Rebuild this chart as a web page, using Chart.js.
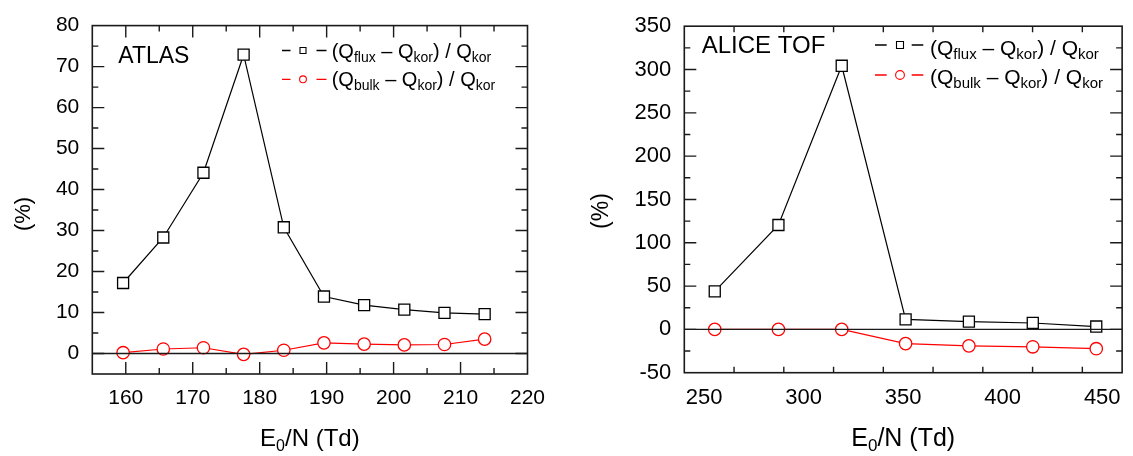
<!DOCTYPE html>
<html>
<head>
<meta charset="utf-8">
<script src="https://cdn.jsdelivr.net/npm/chart.js@4"></script>
<style>
  html, body { margin: 0; padding: 0; background: #fff; }
  body { width: 1133px; height: 456px; position: relative; overflow: hidden; }
  canvas { position: absolute; top: 0; }
  #left  { left: 0; }
  #right { left: 570px; }
</style>
</head>
<body>
<canvas id="left" width="570" height="456"></canvas>
<canvas id="right" width="563" height="456"></canvas>
<script>
/* ============================================================
   DATA
   ============================================================ */
// ATLAS
const X_ATLAS     = [159.6, 165.6, 171.6, 177.6, 183.6, 189.6, 195.6, 201.6, 207.6, 213.6];
const FLUX_ATLAS  = [17.2, 28.3, 44.1, 72.9, 30.8, 13.9, 11.8, 10.7, 9.9, 9.6];
const BULK_ATLAS  = [0.2, 1.1, 1.4, -0.2, 0.8, 2.6, 2.3, 2.1, 2.2, 3.5];
const XTICKS_ATLAS = [160, 170, 180, 190, 200, 210, 220];
const YTICKS_ATLAS = [0, 10, 20, 30, 40, 50, 60, 70, 80];

// ALICE TOF
const X_ALICE     = [255.3, 287.3, 319.1, 351.2, 383.0, 415.1, 447.0];
const FLUX_ALICE  = [43.9, 120.5, 304.3, 11.5, 8.9, 7.4, 3.3];
const BULK_ALICE  = [0, 0, 0, -16.4, -19.0, -20.1, -22.3];
const XTICKS_ALICE = [250, 300, 350, 400, 450];
const YTICKS_ALICE = [-50, 0, 50, 100, 150, 200, 250, 300, 350];

const LEGEND_FLUX = [["(Q", 0], ["flux", 1], [" \u2013 Q", 0], ["kor", 1], [") / Q", 0], ["kor", 1]];
const LEGEND_BULK = [["(Q", 0], ["bulk", 1], [" \u2013 Q", 0], ["kor", 1], [") / Q", 0], ["kor", 1]];
const XTITLE = [["E", 0], ["0", 1], ["/N (Td)", 0]];

const FONT = '"Liberation Sans", Arial, sans-serif';
const INK = "#1a1a1a";

/* ============================================================
   HELPERS
   ============================================================ */
function rich(ctx, parts, x, y, size, subSize, shift) {
  ctx.textAlign = "left";
  ctx.textBaseline = "alphabetic";
  for (const [txt, sub] of parts) {
    ctx.font = `${sub ? subSize : size}px ${FONT}`;
    ctx.fillText(txt, x, y + (sub ? shift : 0));
    x += ctx.measureText(txt).width;
  }
}

function richWidth(ctx, parts, size, subSize) {
  let w = 0;
  for (const [txt, sub] of parts) {
    ctx.font = `${sub ? subSize : size}px ${FONT}`;
    w += ctx.measureText(txt).width;
  }
  return w;
}

// frame, inward ticks, zero line, labels and legend
const decor = {
  id: "decor",
  afterDatasetsDraw(chart) {
    const o = chart.options.plugins.decor;
    const { ctx, chartArea: a, scales: { x, y } } = chart;
    ctx.save();
    ctx.strokeStyle = INK;

    // zero line
    ctx.lineWidth = 1.4;
    const y0 = y.getPixelForValue(0);
    ctx.beginPath(); ctx.moveTo(a.left, y0); ctx.lineTo(a.right, y0); ctx.stroke();

    // frame
    ctx.lineWidth = 1.6;
    ctx.strokeRect(a.left, a.top, a.right - a.left, a.bottom - a.top);

    // ticks (major + minor, all four sides)
    ctx.lineWidth = 1.4;
    const eps = 1e-6;
    for (let v = x.min; v <= x.max + eps; v += o.xMinor) {
      if (Math.abs(v - x.min) < eps || Math.abs(v - x.max) < eps) continue;
      const len = o.xMajor.some(m => Math.abs(m - v) < eps) ? 12 : 6;
      const px = x.getPixelForValue(v);
      ctx.beginPath();
      ctx.moveTo(px, a.bottom); ctx.lineTo(px, a.bottom - len);
      ctx.moveTo(px, a.top); ctx.lineTo(px, a.top + len);
      ctx.stroke();
    }
    for (let v = y.min; v <= y.max + eps; v += o.yMinor) {
      if (Math.abs(v - y.min) < eps || Math.abs(v - y.max) < eps) continue;
      const len = o.yMajor.some(m => Math.abs(m - v) < eps) ? 12 : 6;
      const py = y.getPixelForValue(v);
      ctx.beginPath();
      ctx.moveTo(a.left, py); ctx.lineTo(a.left + len, py);
      ctx.moveTo(a.right, py); ctx.lineTo(a.right - len, py);
      ctx.stroke();
    }

    ctx.fillStyle = "#000";

    // panel label
    ctx.font = `${o.nameSize}px ${FONT}`;
    ctx.textAlign = "left";
    ctx.textBaseline = "alphabetic";
    ctx.fillText(o.name, o.nameX, o.nameY);

    // x title
    const ts = o.titleSize, ss = o.titleSize - 8;
    const tw = richWidth(ctx, XTITLE, ts, ss);
    rich(ctx, XTITLE, (a.left + a.right) / 2 - tw / 2, 446, ts, ss, 5);

    // y title
    ctx.save();
    ctx.translate(o.yTitleX, o.yTitleY);
    ctx.rotate(-Math.PI / 2);
    ctx.font = `${o.yTitleSize}px ${FONT}`;
    ctx.textAlign = "center";
    ctx.textBaseline = "middle";
    ctx.fillText("(%)", 0, 0);
    ctx.restore();

    // legend
    const L = o.legend;
    const rows = [
      { parts: LEGEND_FLUX, color: "#000", shape: "rect", cy: L.y1, base: L.b1 },
      { parts: LEGEND_BULK, color: "#ff0000", shape: "circle", cy: L.y2, base: L.b2 },
    ];
    for (const r of rows) {
      ctx.strokeStyle = r.color;
      ctx.lineWidth = 1.3;
      ctx.beginPath();
      ctx.moveTo(L.d1[0], r.cy); ctx.lineTo(L.d1[1], r.cy);
      ctx.moveTo(L.d2[0], r.cy); ctx.lineTo(L.d2[1], r.cy);
      ctx.stroke();
      ctx.lineWidth = 1.1;
      ctx.beginPath();
      if (r.shape === "rect") {
        ctx.rect(L.mx - L.sq / 2, r.cy - L.sq / 2, L.sq, L.sq);
      } else {
        ctx.arc(L.mx, r.cy, L.cr, 0, Math.PI * 2);
      }
      ctx.stroke();
      ctx.fillStyle = "#000";
      rich(ctx, r.parts, L.tx, r.base, L.size, L.size - 6, 4);
    }
    ctx.restore();
  },
};

function makeChart(id, xs, flux, bulk, opt) {
  const sq = (s, c, r) => ({
    borderColor: c, pointBorderColor: c, pointBackgroundColor: "#fff",
    pointStyle: s, pointRadius: r, pointHoverRadius: r, pointBorderWidth: 1.3,
    borderWidth: 1.2, tension: 0, fill: false,
  });
  return new Chart(document.getElementById(id), {
    type: "line",
    data: {
      datasets: [
        { data: xs.map((v, i) => ({ x: v, y: flux[i] })), ...sq("rect", "#000", 7.8) },
        { data: xs.map((v, i) => ({ x: v, y: bulk[i] })), ...sq("circle", "#ff0000", 6.2) },
      ],
    },
    options: {
      responsive: false,
      animation: false,
      clip: false,
      layout: { padding: { top: opt.top, right: opt.right, bottom: 0, left: 0 } },
      plugins: {
        legend: { display: false },
        tooltip: { enabled: false },
        decor: opt.decor,
      },
      scales: {
        x: {
          type: "linear",
          min: opt.xMin, max: opt.xMax,
          grid: { display: false, drawTicks: false },
          border: { display: false },
          afterBuildTicks: s => { s.ticks = opt.xTicks.map(v => ({ value: v })); },
          afterFit: s => { s.height = opt.xH; },
          ticks: { color: "#000", padding: 12, maxRotation: 0, font: { family: FONT, size: opt.tickSize } },
        },
        y: {
          min: opt.yMin, max: opt.yMax,
          grid: { display: false, drawTicks: false },
          border: { display: false },
          afterBuildTicks: s => { s.ticks = opt.yTicks.map(v => ({ value: v })); },
          afterFit: s => { s.width = opt.yW; },
          ticks: { color: "#000", padding: 13, font: { family: FONT, size: opt.tickSize } },
        },
      },
    },
    plugins: [decor],
  });
}

makeChart("left", X_ATLAS, FLUX_ATLAS, BULK_ATLAS, {
  top: 20.7, right: 42.5, xH: 82, yW: 92.3,
  xMin: 155, xMax: 220, yMin: -5, yMax: 80,
  xTicks: XTICKS_ATLAS, yTicks: YTICKS_ATLAS, tickSize: 21,
  decor: {
    xMinor: 5, yMinor: 5, xMajor: XTICKS_ATLAS, yMajor: YTICKS_ATLAS,
    name: "ATLAS", nameX: 118.3, nameY: 63.3, nameSize: 23,
    titleSize: 24, yTitleSize: 22, yTitleX: 23.5, yTitleY: 214,
    legend: { d1: [282, 290.5], mx: 303, d2: [316.5, 326.5], tx: 331.7, sq: 6, cr: 3.4,
              y1: 50.5, y2: 79.3, b1: 57.7, b2: 86.3, size: 20 },
  },
});

makeChart("right", X_ALICE, FLUX_ALICE, BULK_ALICE, {
  top: 14.7, right: 9, xH: 83.3, yW: 114.3,
  xMin: 240, xMax: 460, yMin: -50, yMax: 350,
  xTicks: XTICKS_ALICE, yTicks: YTICKS_ALICE, tickSize: 22,
  decor: {
    xMinor: 25, yMinor: 25, xMajor: XTICKS_ALICE, yMajor: YTICKS_ALICE,
    name: "ALICE TOF", nameX: 131.7, nameY: 53.3, nameSize: 24,
    titleSize: 25, yTitleSize: 23, yTitleX: 32, yTitleY: 211,
    legend: { d1: [305, 316.7], mx: 330, d2: [341.7, 353.3], tx: 360, sq: 7, cr: 4.4,
              y1: 45, y2: 75, b1: 54.5, b2: 84, size: 21 },
  },
});
</script>
</body>
</html>
